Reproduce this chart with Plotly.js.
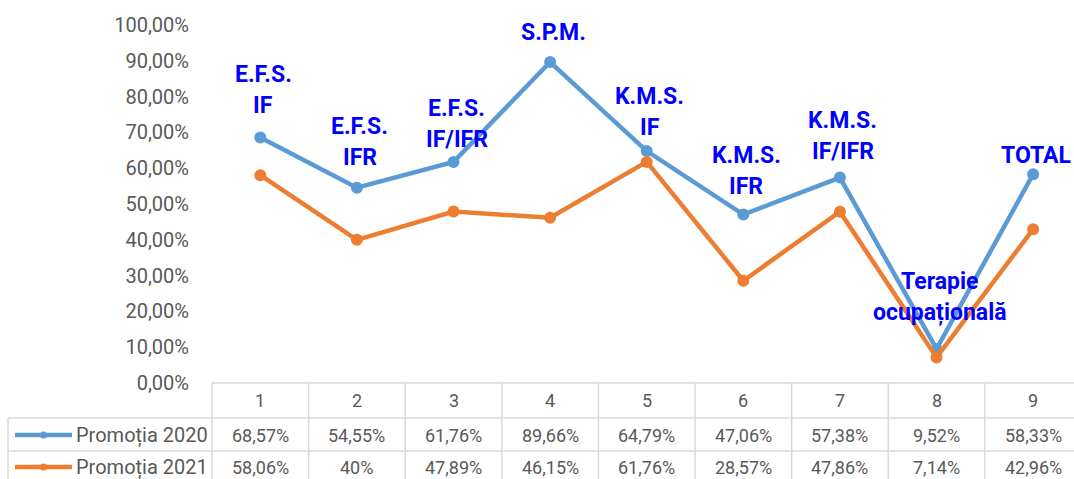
<!DOCTYPE html>
<html><head><meta charset="utf-8">
<script src="https://cdn.plot.ly/plotly-3.0.1.min.js"></script>
<style>html,body{margin:0;padding:0;background:#fff;}</style>
</head><body><div id="chart" style="width:1074px;height:479px;"></div>
<script>
// ---- data ----
const categories = [1, 2, 3, 4, 5, 6, 7, 8, 9];
const pointLabels = [["E.F.S.", "IF"], ["E.F.S.", "IFR"], ["E.F.S.", "IF/IFR"], ["S.P.M."], ["K.M.S.", "IF"], ["K.M.S.", "IFR"], ["K.M.S.", "IF/IFR"], ["Terapie", "ocupațională"], ["TOTAL"]];
const seriesNames = ["Promoția 2020", "Promoția 2021"];
const promotia2020 = [0.6857, 0.5455, 0.6176, 0.8966, 0.6479, 0.4706, 0.5738, 0.0952, 0.5833];
const promotia2021 = [0.5806, 0.40, 0.4789, 0.4615, 0.6176, 0.2857, 0.4786, 0.0714, 0.4296];
const yTickValues = [0, 0.1, 0.2, 0.3, 0.4, 0.5, 0.6, 0.7, 0.8, 0.9, 1.0];

// ---- layout geometry / style ----
const W = 1074, H = 479, L = 212, R = 0, T = 25, B = 96;
const xRange = [0.5, 9.423];
const FONT = "Roboto, 'Liberation Sans', sans-serif";
const GREY = "#595959", GRID = "#D9D9D9";
const BLUE = "#5B9BD5", ORANGE = "#ED7D31", LABEL = "#0000FF";
const labelShift = [32, 30, 22, 30, 24, 28, 26, 36, 19]; // px above blue point (last line)
const lineGap = 31;

const pw = W - L - R, ph = H - T - B;
const pxX = p => (p - L) / pw;
const pxY = p => (H - B - p) / ph;
const dataX = c => (c - xRange[0]) / (xRange[1] - xRange[0]);
const fmt = v => Number((v * 100).toFixed(2)).toString().replace('.', ',') + '%';

const traces = [
  {x: categories, y: promotia2020, name: seriesNames[0], mode: 'lines+markers', cliponaxis: false,
   line: {color: BLUE, width: 4.5}, marker: {color: BLUE, size: 12}},
  {x: categories, y: promotia2021, name: seriesNames[1], mode: 'lines+markers', cliponaxis: false,
   line: {color: ORANGE, width: 4.5}, marker: {color: ORANGE, size: 12}}
];

const shapes = [];
const annotations = [];
const line = (x0, y0, x1, y1) => shapes.push({type: 'line', xref: 'paper', yref: 'paper', x0, y0, x1, y1, line: {color: GRID, width: 1.5}});

// table horizontal lines
line(0, 0, 1.02, 0);
line(pxX(8), pxY(418), 1.02, pxY(418));
line(pxX(8), pxY(451), 1.02, pxY(451));
// vertical lines
line(pxX(8), pxY(418), pxX(8), pxY(479));
line(0, 0, 0, pxY(479));
categories.forEach(c => line(dataX(c + 0.5), 0, dataX(c + 0.5), pxY(479)));

// table text
const rowY = [pxY(400), pxY(435), pxY(467)];
categories.forEach((c, i) => {
  annotations.push({xref: 'x', yref: 'paper', x: c, y: rowY[0], text: String(c), showarrow: false, yanchor: 'middle', font: {family: FONT, size: 18, color: GREY}});
  annotations.push({xref: 'x', yref: 'paper', x: c, y: rowY[1], text: fmt(promotia2020[i]), showarrow: false, yanchor: 'middle', font: {family: FONT, size: 18, color: GREY}});
  annotations.push({xref: 'x', yref: 'paper', x: c, y: rowY[2], text: fmt(promotia2021[i]), showarrow: false, yanchor: 'middle', font: {family: FONT, size: 18, color: GREY}});
});
// legend keys in table
[BLUE, ORANGE].forEach((col, k) => {
  const yy = k === 0 ? 435 : 467;
  shapes.push({type: 'line', xref: 'paper', yref: 'paper', x0: pxX(15), x1: pxX(72), y0: pxY(yy), y1: pxY(yy), line: {color: col, width: 4.5}});
  shapes.push({type: 'circle', xref: 'paper', yref: 'paper', x0: pxX(40), x1: pxX(47), y0: pxY(yy + 3.5), y1: pxY(yy - 3.5), fillcolor: col, line: {color: col, width: 0}});
  annotations.push({xref: 'paper', yref: 'paper', x: pxX(74), y: pxY(yy), xanchor: 'left', yanchor: 'middle', text: seriesNames[k], showarrow: false, font: {family: FONT, size: 20, color: GREY}});
});

// point labels
pointLabels.forEach((lines, i) => {
  const n = lines.length;
  lines.forEach((t, j) => {
    annotations.push({xref: 'x', yref: 'y', x: categories[i], y: promotia2020[i], text: '<b>' + t + '</b>', showarrow: false,
      yanchor: 'middle', xshift: 3, yshift: labelShift[i] + (n - 1 - j) * lineGap,
      font: {family: FONT, size: 23, color: LABEL}});
  });
});

const layout = {
  width: W, height: H, margin: {l: L, r: R, t: T, b: B, pad: 0},
  paper_bgcolor: '#fff', plot_bgcolor: '#fff', showlegend: false, separators: ',.',
  xaxis: {range: xRange, showticklabels: false, showgrid: false, zeroline: false, showline: false, ticks: ''},
  yaxis: {range: [0, 1], tickvals: yTickValues, tickformat: '.2%', showgrid: false, zeroline: false, showline: false,
    ticks: '', ticklabelstandoff: 22, tickfont: {family: FONT, size: 20, color: GREY}},
  shapes, annotations
};
Plotly.newPlot('chart', traces, layout, {staticPlot: true, displayModeBar: false});
</script></body></html>
